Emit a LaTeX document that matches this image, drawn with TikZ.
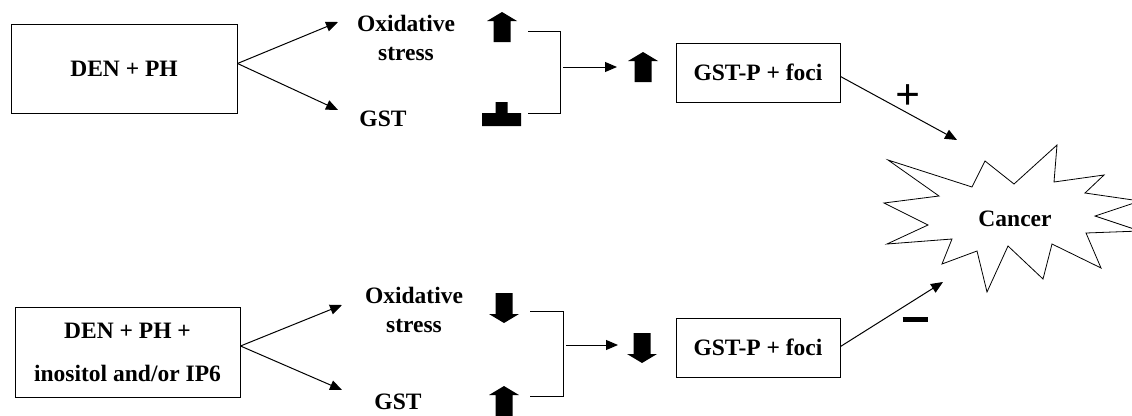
\documentclass[tikz,border=0pt]{standalone}
\usepackage{fontspec}
\setmainfont{Liberation Serif}
\usetikzlibrary{arrows.meta}
\tikzset{
  box/.style={draw,line width=1pt,inner sep=0pt,align=center},
  lbl/.style={inner sep=0pt,align=center},
  uparr/.pic={\fill (0,-15) -- (15,-6) -- (8.5,-6) -- (8.5,15) -- (-8.5,15) -- (-8.5,-6) -- (-15,-6) -- cycle;},
  dnarr/.pic={\fill (0,15) -- (15,6) -- (8.5,6) -- (8.5,-15) -- (-8.5,-15) -- (-8.5,6) -- (-15,6) -- cycle;},
  flatbar/.pic={\fill (-19.5,0) rectangle (19.5,13) (-6,0) rectangle (6,-11);}
}
\begin{document}
\begin{tikzpicture}[x=1pt,y=-1pt,line width=1pt,>={Triangle[length=12pt,width=10pt]},
  font=\fontsize{23.5}{29}\selectfont\bfseries]
  \useasboundingbox (0,0) rectangle (1132,415);
  \clip (0,0) rectangle (1132,415);
  % upper branch
  \node[box,minimum width=226pt,minimum height=89pt] (dp) at (124,68.5) {DEN + PH};
  \node[lbl] (ox1) at (406,37.5) {Oxidative\\stress};
  \node[lbl] (gst1) at (383,119) {GST};
  \coordinate (t1) at (338,22);
  \coordinate (t2) at (338,110);
  \draw[->] ([yshift=5pt]dp.east) -- (t1);
  \draw[->] ([yshift=5pt]dp.east) -- (t2);
  \pic at (502,27) {uparr};
  \pic at (501.5,113) {flatbar};
  \draw (528,31) -- (560,31) -- (560,113) -- (528,113);
  \node[box,minimum width=164pt,minimum height=59pt] (gp1) at (758,72.5) {GST-P + foci};
  \coordinate (m1) at (617,67);
  \draw[->] (563,67) -- (m1);
  \pic at (643,67) {uparr};
  % lower branch
  \node[box,minimum width=225pt,minimum height=90pt] (dpi) at (127.5,352) {DEN + PH +\\[14pt]inositol and/or IP6};
  \node[lbl] (ox2) at (414,310) {Oxidative\\stress};
  \node[lbl] (gst2) at (398,402) {GST};
  \coordinate (b1) at (342,305);
  \coordinate (b2) at (342,390);
  \draw[->] ([yshift=6pt]dpi.east) -- (b1);
  \draw[->] ([yshift=6pt]dpi.east) -- (b2);
  \pic at (504,308) {dnarr};
  \pic at (504,401) {uparr};
  \draw (530,311) -- (563,311) -- (563,396) -- (530,396);
  \node[box,minimum width=164pt,minimum height=59pt] (gp2) at (758,347.5) {GST-P + foci};
  \coordinate (m2) at (618,345);
  \draw[->] (566,345) -- (m2);
  \pic at (642,348) {dnarr};
  % cancer
  \draw[line width=0.8pt] (888,160) -- (972,187) -- (985,161) -- (1014,184) -- (1057,145) -- (1054,182)
    -- (1104,175) -- (1085,193) -- (1140,201) -- (1095,216) -- (1140,231) -- (1086,233)
    -- (1101,268) -- (1052,244) -- (1043,279) -- (1008,246) -- (987,292) -- (977,251)
    -- (942,264) -- (952,239) -- (887,244) -- (928,225) -- (884,203) -- (939,196) -- cycle;
  \node[lbl] (ca) at (1015,219) {Cancer};
  \coordinate (c1) at (957,140);
  \coordinate (c2) at (943,282);
  \draw[->] ([yshift=-4pt]gp1.east) -- (c1);
  \draw[->] ([yshift=1pt]gp2.east) -- (c2);
  \node[lbl,font=\fontsize{44}{44}\selectfont\bfseries] (plus) at (908,97) {+};
  \node[lbl] (minus) at (915,319) {\rule{25pt}{5pt}};
\end{tikzpicture}
\end{document}
